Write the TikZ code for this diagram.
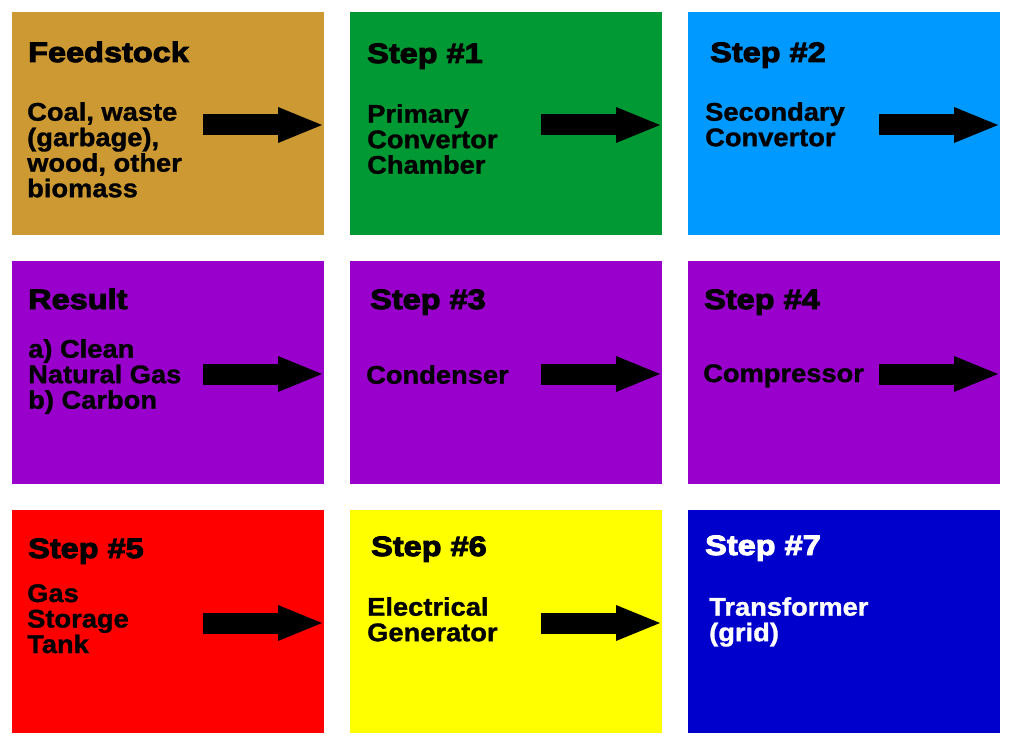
\documentclass[tikz,border=0pt]{standalone}
\usepackage{fontspec}
\usepackage{tikz}
\usetikzlibrary{arrows.meta,positioning}
\newfontfamily\headfont{Liberation Sans Bold}[FakeStretch=1.16,FakeBold=3.5]
\newfontfamily\bodyfont{Liberation Sans Bold}[FakeStretch=1.07,FakeBold=1.2]
\definecolor{feedbrown}{HTML}{CC9933}
\definecolor{stepgreen}{HTML}{009933}
\definecolor{stepsky}{HTML}{0099FF}
\definecolor{steppurple}{HTML}{9900CC}
\definecolor{stepred}{HTML}{FF0000}
\definecolor{stepyellow}{HTML}{FFFF00}
\definecolor{stepblue}{HTML}{0000CC}

\begin{document}
\begin{tikzpicture}[x=1pt, y=-1pt, node distance=26pt and 26pt,
  box/.style={minimum width=312pt, minimum height=223pt, inner sep=0pt, outer sep=0pt},
  head/.style={font=\headfont\fontsize{28}{30}\selectfont, inner sep=0pt, anchor=base west},
  body/.style={font=\bodyfont\fontsize{25.5}{25.5}\selectfont, align=left, inner sep=0pt,
               anchor=north west, execute at begin node=\strut},
  bigarr/.style={line width=21pt, -{Triangle[length=44pt,width=36pt,line width=0pt]}}]
\useasboundingbox (0,0) rectangle (1012,746);
\node[box, fill=feedbrown, anchor=north west] (feed) at (12,12) {};
\node[box, fill=stepgreen, right=of feed] (prim) {};
\node[box, fill=stepsky, right=of prim] (sec) {};
\node[box, fill=steppurple, below=of feed] (res) {};
\node[box, fill=steppurple, right=of res] (cond) {};
\node[box, fill=steppurple, right=of cond] (comp) {};
\node[box, fill=stepred, below=of res] (tank) {};
\node[box, fill=stepyellow, right=of tank] (gen) {};
\node[box, fill=stepblue, right=of gen] (trans) {};

\node[head] (feedhead) at ([xshift=16pt,yshift=-50pt]feed.north west) {Feedstock};
\node[head] (primhead) at ([xshift=17pt,yshift=-51pt]prim.north west) {Step \#1};
\node[head] (sechead) at ([xshift=22pt,yshift=-50pt]sec.north west) {Step \#2};
\node[head] (reshead) at ([xshift=16pt,yshift=-48pt]res.north west) {Result};
\node[head] (condhead) at ([xshift=20pt,yshift=-48pt]cond.north west) {Step \#3};
\node[head] (comphead) at ([xshift=16pt,yshift=-48pt]comp.north west) {Step \#4};
\node[head] (tankhead) at ([xshift=16pt,yshift=-48pt]tank.north west) {Step \#5};
\node[head] (genhead) at ([xshift=21pt,yshift=-46pt]gen.north west) {Step \#6};
\node[head, text=white] (transhead) at ([xshift=17pt,yshift=-45pt]trans.north west) {Step \#7};

\node[body] (feedtxt) at ([xshift=15pt,yshift=-90pt]feed.north west) {Coal, waste\\(garbage),\\wood, other\\biomass};
\node[body] (primtxt) at ([xshift=17pt,yshift=-92pt]prim.north west) {Primary\\Convertor\\Chamber};
\node[body] (sectxt) at ([xshift=17pt,yshift=-90pt]sec.north west) {Secondary\\Convertor};
\node[body] (restxt) at ([xshift=16pt,yshift=-78pt]res.north west) {a) Clean\\Natural Gas\\b) Carbon};
\node[body] (condtxt) at ([xshift=16pt,yshift=-104pt]cond.north west) {Condenser};
\node[body] (comptxt) at ([xshift=15pt,yshift=-103pt]comp.north west) {Compressor};
\node[body] (tanktxt) at ([xshift=15pt,yshift=-74pt]tank.north west) {Gas\\Storage\\Tank};
\node[body] (gentxt) at ([xshift=17pt,yshift=-87pt]gen.north west) {Electrical\\Generator};
\node[body, text=white] (transtxt) at ([xshift=21pt,yshift=-87pt]trans.north west) {Transformer\\(grid)};

\foreach \b in {feed,prim,sec,res,cond,comp,tank,gen}{
  \coordinate (\b tail) at ([xshift=-121pt,yshift=-113pt]\b.north east);
  \coordinate (\b tip) at ([xshift=-2pt,yshift=-113pt]\b.north east);
  \draw[bigarr] (\b tail) -- (\b tip);
}
\end{tikzpicture}
\end{document}
